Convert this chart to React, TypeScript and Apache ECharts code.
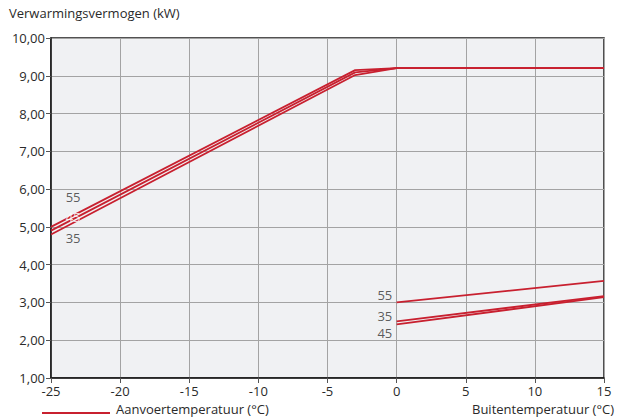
import React, { useEffect, useRef } from "react";
import * as echarts from "echarts";

const xTicks = [-25, -20, -15, -10, -5, 0, 5, 10, 15];
const upper55 = [[-25, 5.0], [-3, 9.15], [0, 9.2], [15, 9.2]];
const upper45 = [[-25, 4.9], [-3, 9.09], [0, 9.2], [15, 9.2]];
const upper35 = [[-25, 4.8], [-3, 9.02], [0, 9.2], [15, 9.2]];
const lower55 = [[0, 3.0], [15, 3.57]];
const lower35 = [[0, 2.5], [15, 3.17]];
const lower45 = [[0, 2.42], [15, 3.14]];
const curveLabels = [
  { value: [-23.4, 5.79], text: "55", color: "#333" },
  { value: [-23.4, 5.26], text: "45", color: "#ffffff" },
  { value: [-23.4, 4.7], text: "35", color: "#333" },
  { value: [-0.85, 3.2], text: "55", color: "#333" },
  { value: [-0.85, 2.65], text: "35", color: "#333" },
  { value: [-0.85, 2.2], text: "45", color: "#333" },
];
const yTitle = "Verwarmingsvermogen (kW)";
const xTitle = "Buitentemperatuur (°C)";
const legendText = "Aanvoertemperatuur (°C)";

const RED = "#c8202f";
const FONT = "Open Sans";

export default function App() {
  const ref = useRef<HTMLDivElement>(null);
  useEffect(() => {
    document.body.style.margin = "0";
    const chart = echarts.init(ref.current!, null, { renderer: "svg" });
    const line = (data: number[][]) => ({
      type: "line",
      data,
      symbol: "none",
      lineStyle: { color: RED, width: 1.8 },
      z: 3,
    });
    chart.setOption({
      animation: false,
      backgroundColor: "#ffffff",
      textStyle: { fontFamily: FONT },
      grid: {
        left: 51,
        right: 14,
        top: 38,
        bottom: 40,
        show: true,
        backgroundColor: "#f0f1f3",
        borderColor: "#1a1a1a",
        borderWidth: 1.5,
      },
      xAxis: {
        type: "value",
        min: -25,
        max: 15,
        interval: 5,
        data: xTicks,
        axisLine: { show: true, onZero: false, lineStyle: { color: "#1a1a1a", width: 1.5 } },
        axisTick: { show: true, length: 5, lineStyle: { color: "#555" } },
        axisLabel: { color: "#2a2a2a", fontSize: 13, margin: 6, fontFamily: FONT },
        splitLine: { show: true, lineStyle: { color: "#a3a3a3", width: 1 } },
      },
      yAxis: {
        type: "value",
        min: 1,
        max: 10,
        interval: 1,
        axisLine: { show: true, onZero: false, lineStyle: { color: "#1a1a1a", width: 1.5 } },
        axisTick: { show: true, length: 5, lineStyle: { color: "#555" } },
        axisLabel: {
          color: "#2a2a2a",
          fontSize: 13,
          margin: 6,
          fontFamily: FONT,
          formatter: (v: number) => v.toFixed(2).replace(".", ","),
        },
        splitLine: { show: true, lineStyle: { color: "#a3a3a3", width: 1 } },
      },
      series: [
        line(upper55),
        line(upper45),
        line(upper35),
        line(lower55),
        line(lower35),
        line(lower45),
        {
          type: "scatter",
          symbolSize: 0,
          z: 5,
          data: curveLabels.map((l) => ({
            value: l.value,
            label: {
              show: true,
              formatter: l.text,
              position: "inside",
              color: l.color,
              fontSize: 13,
              lineHeight: 14,
              fontFamily: FONT,
            },
          })),
        },
      ],
      graphic: [
        {
          type: "text",
          left: 9,
          top: 6,
          style: { text: yTitle, fontSize: 13, fontFamily: FONT, fill: "#2a2a2a" },
        },
        {
          type: "line",
          shape: { x1: 42, y1: 413, x2: 110, y2: 413 },
          style: { stroke: RED, lineWidth: 2 },
        },
        {
          type: "text",
          left: 116,
          top: 402,
          style: { text: legendText, fontSize: 13, fontFamily: FONT, fill: "#2a2a2a" },
        },
        {
          type: "text",
          right: 4,
          top: 402,
          style: { text: xTitle, fontSize: 13, fontFamily: FONT, fill: "#2a2a2a" },
        },
      ],
    });
    return () => chart.dispose();
  }, []);
  return <div ref={ref} style={{ width: 618, height: 418 }} />;
}
